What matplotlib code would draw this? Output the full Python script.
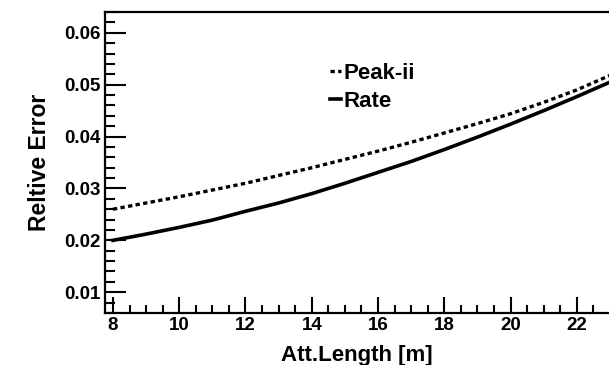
import matplotlib
matplotlib.use('Agg')
import matplotlib.pyplot as plt
from matplotlib.ticker import MultipleLocator, FormatStrFormatter

# attenuation length [m] and relative error for the two methods
att_length = [8, 9, 10, 11, 12, 13, 14, 15, 16, 17, 18, 19, 20, 21, 22, 23]
err_peak = [0.0260, 0.0272, 0.0284, 0.0297, 0.0310, 0.0325, 0.0340, 0.0356,
            0.0372, 0.0389, 0.0407, 0.0425, 0.0444, 0.0466, 0.0490, 0.0518]
err_rate = [0.0200, 0.0212, 0.0225, 0.0239, 0.0256, 0.0272, 0.0290, 0.0310,
            0.0331, 0.0352, 0.0375, 0.0399, 0.0424, 0.0450, 0.0477, 0.0505]
series_names = ['Peak-ii', 'Rate']


def show_errors():
	plt.rcParams['font.family'] = ['Liberation Sans', 'DejaVu Sans']
	plt.rcParams['font.weight'] = 'bold'

	fig = plt.figure(figsize=(6.09, 3.65), dpi=100)
	ax = fig.add_axes([0.1724, 0.1425, 0.8276, 0.8245])

	ax.plot(att_length, err_peak, color='black', lw=2.4, ls=(0, (1.3, 1.0)), label=series_names[0])
	ax.plot(att_length, err_rate, color='black', lw=2.6, label=series_names[1])

	ax.set_xlim(7.76, 22.97)
	ax.set_ylim(0.006, 0.064)

	ax.xaxis.set_major_locator(MultipleLocator(2))
	ax.xaxis.set_minor_locator(MultipleLocator(0.5))
	ax.yaxis.set_major_locator(MultipleLocator(0.01))
	ax.yaxis.set_minor_locator(MultipleLocator(0.002))
	ax.yaxis.set_major_formatter(FormatStrFormatter('%.2f'))

	# ROOT-like inward ticks, long on y
	ax.tick_params(axis='both', which='both', direction='in', width=1.5, labelsize=13.5, colors='black')
	ax.tick_params(axis='y', which='major', length=15, pad=3)
	ax.tick_params(axis='y', which='minor', length=7.5)
	ax.tick_params(axis='x', which='major', length=11.5, pad=3)
	ax.tick_params(axis='x', which='minor', length=6)

	for spine in ['left', 'top', 'bottom']:
		ax.spines[spine].set_linewidth(1.6)
	ax.spines['right'].set_visible(False)

	ax.set_xlabel('Att.Length [m]', fontsize=16, fontweight='bold', labelpad=8)
	ax.set_ylabel('Reltive Error', fontsize=16.5, fontweight='bold', labelpad=10)

	ax.legend(loc='upper left', bbox_to_anchor=(0.446, 0.83), frameon=False,
			  borderaxespad=0, borderpad=0,
			  handlelength=0.5, handletextpad=0.1, labelspacing=0.3,
			  prop={'size': 16, 'weight': 'bold'})

	fig.savefig('out.png', dpi=100)


def main():
	show_errors()

main()
